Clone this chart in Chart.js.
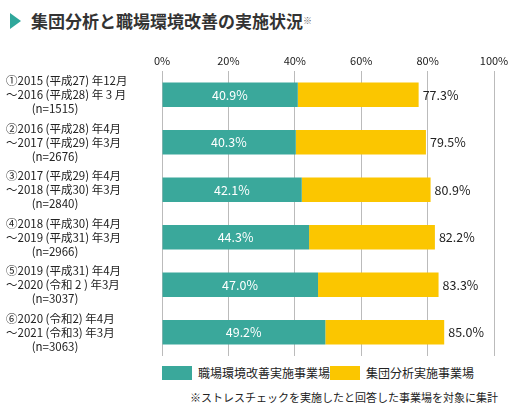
<!DOCTYPE html><html><head><meta charset="utf-8">
<script src="https://cdn.jsdelivr.net/npm/chart.js@4/dist/chart.umd.min.js"></script>
<style>body{margin:0;width:514px;height:418px;background:#fff;font-family:"Noto Sans CJK JP",sans-serif;position:relative;overflow:hidden}
#t{position:absolute;left:10px;top:8px;font-size:17px;font-weight:bold;color:#333;display:flex;align-items:center}
#t:before{content:"";display:inline-block;border-left:11px solid #2fa79b;border-top:8px solid transparent;border-bottom:8px solid transparent;margin-right:10px}
#t sup{font-size:9px;font-weight:normal;color:#666}
#c{position:absolute;left:0;top:40px}
#lg{position:absolute;top:364px;left:162px;font-size:12px;color:#222;display:flex;gap:0}
#lg span{display:flex;align-items:center;width:168px}#lg i{display:inline-block;width:30px;height:14px;margin-right:6px}
#fn{position:absolute;top:389px;right:16px;font-size:11px;color:#222}</style></head><body>
<div id="t">集団分析と職場環境改善の実施状況<sup>※</sup></div>
<canvas id="c" width="514" height="316"></canvas>
<div id="lg"><span><i style="background:#3aa89b"></i>職場環境改善実施事業場</span><span><i style="background:#fbc600"></i>集団分析実施事業場</span></div>
<div id="fn">※ストレスチェックを実施したと回答した事業場を対象に集計</div>
<script>
const line1=["①2015 (平成27) 年12月","②2016 (平成28) 年4月","③2017 (平成29) 年4月","④2018 (平成30) 年4月","⑤2019 (平成31) 年4月","⑥2020 (令和2) 年4月"];
const line2=["～2016 (平成28) 年 3 月","～2017 (平成29) 年3月","～2018 (平成30) 年3月","～2019 (平成31) 年3月","～2020 (令和 2 ) 年3月","～2021 (令和3) 年3月"];
const nLabels=["(n=1515)","(n=2676)","(n=2840)","(n=2966)","(n=3037)","(n=3063)"];
const improve=[40.9,40.3,42.1,44.3,47.0,49.2];
const analysis=[77.3,79.5,80.9,82.2,83.3,85.0];
const ticks=[0,20,40,60,80,100];
const rest=analysis.map((v,i)=>+(v-improve[i]).toFixed(1));
const F='"Noto Sans CJK JP",sans-serif';
const lab={id:'lab',afterDatasetsDraw(ch){const c=ch.ctx,x=ch.scales.x,y=ch.scales.y;c.save();c.textBaseline='middle';
improve.forEach((v,i)=>{const yy=y.getPixelForValue(i);c.font='12.5px '+F;c.fillStyle='#fff';c.textAlign='center';c.fillText(v.toFixed(1)+'%',x.getPixelForValue(v/2),yy);
c.fillStyle='#222';c.textAlign='left';c.fillText(analysis[i].toFixed(1)+'%',x.getPixelForValue(analysis[i])+4,yy);
c.font='11.5px '+F;c.fillText(line1[i],6,yy-14);c.fillText(line2[i],6,yy);c.textAlign='center';c.fillText(nLabels[i],55,yy+14);});c.restore();}};
new Chart(document.getElementById('c'),{type:'bar',data:{labels:line1,datasets:[
{data:improve,backgroundColor:'#3aa89b',barPercentage:0.52,categoryPercentage:1},
{data:rest,backgroundColor:'#fbc600',barPercentage:0.52,categoryPercentage:1}]},
options:{indexAxis:'y',responsive:false,animation:false,layout:{padding:{left:5,right:20,top:0,bottom:0}},
plugins:{legend:{display:false},tooltip:{enabled:false}},
scales:{x:{position:'top',stacked:true,min:0,max:100,afterBuildTicks(s){s.ticks=ticks.map(v=>({value:v}))},afterFit(s){s.height=31},
ticks:{callback:v=>v+'%',color:'#222',font:{size:11,family:F},padding:4},grid:{color:'#bbb',drawTicks:false},border:{display:false}},
y:{stacked:true,afterFit(s){s.width=157},ticks:{display:false},grid:{display:false},border:{display:false}}}},plugins:[lab]});
</script></body></html>
